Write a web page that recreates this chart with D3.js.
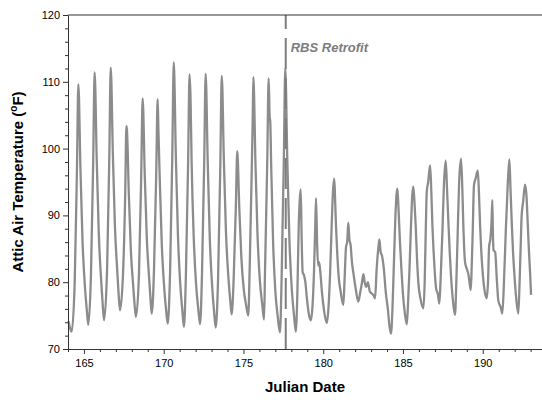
<!DOCTYPE html>
<html>
<head>
<meta charset="utf-8">
<script src="https://cdn.jsdelivr.net/npm/d3@7/dist/d3.min.js"></script>
<style>
  html, body { margin: 0; padding: 0; background: #fff; }
  svg { display: block; font-family: "Liberation Sans", Arial, Helvetica, sans-serif; }
</style>
</head>
<body>
<svg id="chart" width="542" height="403"></svg>
<script>
// ---------- data ----------
const xTickLabels = [165, 170, 175, 180, 185, 190];
const yTickLabels = [70, 80, 90, 100, 110, 120];
const retrofitDay = 177.65;
const retrofitLabel = "RBS Retrofit";

// [Julian date, attic air temperature °F] before the retrofit
const preRetrofit = [
  [164.03,74.2],[164.12,73.2],[164.23,72.6],
  [164.42,80.0],[164.56,96.7],[164.65,109.6],[164.78,97.0],[164.91,86.2],[165.06,79.4],[165.18,75.8],[165.27,73.6],
  [165.44,81.2],[165.58,98.2],[165.67,111.4],[165.80,98.4],[165.93,87.3],[166.08,80.2],[166.18,76.5],[166.26,74.3],
  [166.45,81.9],[166.59,98.9],[166.68,112.1],[166.81,99.4],[166.94,88.5],[167.09,81.6],[167.18,78.0],[167.26,75.8],
  [167.45,81.3],[167.59,93.7],[167.66,103.4],[167.70,102.6],[167.81,93.4],[167.94,84.8],[168.09,79.4],[168.18,76.5],[168.26,74.8],
  [168.45,81.3],[168.59,96.1],[168.68,107.5],[168.81,96.2],[168.94,86.6],[169.09,80.5],[169.18,77.2],[169.25,75.3],
  [169.39,81.7],[169.53,96.2],[169.62,107.4],[169.67,102.6],[169.75,95.6],[169.88,85.6],[170.03,79.2],[170.15,75.8],[170.25,73.8],
  [170.40,81.6],[170.54,99.2],[170.63,112.9],[170.76,99.0],[170.89,87.2],[171.04,79.6],[171.17,75.7],[171.27,73.3],
  [171.39,80.9],[171.53,97.9],[171.62,111.1],[171.68,107.8],[171.75,98.0],[171.88,86.8],[172.03,79.7],[172.17,75.9],[172.28,73.7],
  [172.40,81.2],[172.54,98.1],[172.63,111.2],[172.76,97.9],[172.89,86.5],[173.04,79.3],[173.16,75.5],[173.26,73.2],
  [173.41,80.7],[173.55,97.7],[173.64,110.9],[173.77,98.4],[173.90,87.7],[174.05,80.9],[174.17,77.3],[174.26,75.2],
  [174.38,80.1],[174.52,91.1],[174.61,99.6],[174.74,91.0],[174.87,83.6],[175.02,78.9],[175.17,76.5],[175.30,75.0],
  [175.39,82.1],[175.53,98.2],[175.58,104.4],[175.62,110.7],[175.75,98.0],[175.88,87.1],[176.03,80.2],[176.18,76.6],[176.29,74.4],
  [176.35,81.6],[176.49,97.9],[176.58,110.5],[176.64,104.9],[176.68,104.0],[176.74,97.2],[176.86,85.8],[177.00,78.6],[177.15,74.8],[177.29,72.5],
  [177.39,80.4],[177.53,98.2],[177.62,112.0],[177.75,98.2],[177.88,86.4],[178.03,78.9],[178.17,75.0]
];

// [Julian date, attic air temperature °F] after the retrofit
const postRetrofit = [
  [178.28,72.6],[178.38,78.5],[178.46,88.0],[178.52,92.0],[178.59,93.9],[178.65,86.3],[178.71,81.5],[178.80,81.0],[178.88,80.0],[178.98,77.5],[179.10,75.2],[179.22,74.3],
  [179.33,76.5],[179.42,81.5],[179.49,87.5],[179.55,92.6],[179.62,85.5],[179.68,82.5],[179.74,83.0],[179.82,81.5],[179.92,78.5],[180.05,75.8],[180.22,73.9],
  [180.33,76.2],[180.43,81.3],[180.53,88.5],[180.61,93.5],[180.68,95.5],[180.80,88.5],[180.89,83.8],[180.98,80.5],[181.08,78.8],[181.26,76.6],
  [181.34,80.5],[181.43,85.3],[181.50,86.0],[181.57,88.9],[181.64,86.5],[181.72,85.5],[181.80,83.0],[181.90,81.2],[182.05,78.8],[182.20,77.1],
  [182.32,78.5],[182.42,79.8],[182.52,81.2],[182.60,80.0],[182.70,79.3],[182.80,80.0],[182.92,78.6],[183.05,78.3],[183.18,77.9],[183.25,77.6],
  [183.35,82.0],[183.45,85.0],[183.52,86.4],[183.60,84.5],[183.68,84.0],[183.80,82.0],[183.92,78.5],[184.05,76.0],[184.15,73.5],[184.25,72.3],
  [184.34,76.0],[184.42,82.0],[184.52,89.5],[184.59,93.0],[184.65,94.0],[184.72,91.0],[184.81,86.0],[184.90,82.0],[184.99,78.5],[185.12,75.3],[185.24,73.7],
  [185.32,77.0],[185.40,81.5],[185.50,88.3],[185.58,93.0],[185.65,94.3],[185.72,92.0],[185.80,88.3],[185.88,83.5],[185.96,80.0],[186.10,77.5],[186.28,76.1],
  [186.36,80.0],[186.43,88.0],[186.49,93.5],[186.58,95.0],[186.70,97.5],[186.77,94.0],[186.84,88.8],[186.91,85.0],[186.98,82.0],[187.08,79.0],[187.18,78.3],[187.28,76.8],
  [187.36,80.5],[187.47,87.4],[187.57,94.8],[187.68,98.2],[187.76,94.0],[187.85,88.8],[187.93,84.5],[188.01,81.0],[188.13,77.3],[188.26,75.1],
  [188.35,80.5],[188.43,87.4],[188.52,95.0],[188.64,98.5],[188.72,94.0],[188.78,88.8],[188.89,83.0],[189.00,82.0],[189.10,81.2],[189.25,78.8],
  [189.31,82.5],[189.37,87.4],[189.45,94.5],[189.55,95.5],[189.69,96.7],[189.76,93.5],[189.83,88.8],[189.90,85.0],[189.97,82.3],[190.10,79.0],[190.25,77.6],
  [190.33,80.0],[190.40,85.4],[190.48,86.5],[190.55,89.0],[190.60,92.3],[190.64,87.0],[190.68,84.8],[190.78,84.5],[190.88,80.5],[190.98,77.2],[191.12,76.3],[191.23,75.3],
  [191.33,80.0],[191.44,87.4],[191.57,94.8],[191.67,98.4],[191.74,94.0],[191.82,88.8],[191.90,84.5],[191.98,81.3],[192.10,77.5],[192.23,75.3],
  [192.31,80.0],[192.38,85.5],[192.44,90.0],[192.53,92.0],[192.65,94.6],[192.74,93.0],[192.82,88.8],[192.90,84.5],[192.97,81.3],[193.03,78.1]
];

// ---------- layout ----------
const W = 542, H = 403;
const plot = { left: 68, top: 15, bottom: 349, right: 562.5 };
const svg = d3.select("#chart");

const x = d3.scaleLinear().domain([164, 195]).range([plot.left, plot.right]);
const y = d3.scaleLinear().domain([70, 120]).range([plot.bottom, plot.top]);

const axisColor = "#333";
const lineGray = "#8c8c8c";

// data line
const series = preRetrofit.concat(postRetrofit);
const line = d3.line().x(d => x(d[0])).y(d => y(d[1])).curve(d3.curveMonotoneX);

svg.append("path")
  .datum(series)
  .attr("d", line)
  .attr("fill", "none")
  .attr("stroke", lineGray)
  .attr("stroke-width", 2.3)
  .attr("stroke-linejoin", "round");

// retrofit dashed line (drawn bottom to top)
svg.append("line")
  .attr("x1", x(retrofitDay)).attr("x2", x(retrofitDay))
  .attr("y1", y(70)).attr("y2", y(120))
  .attr("stroke", "#7d7d7d")
  .attr("stroke-width", 2)
  .attr("stroke-dasharray", "31,9");

svg.append("text")
  .attr("x", x(retrofitDay) + 5)
  .attr("y", 51.5)
  .attr("font-size", 13)
  .attr("font-weight", "bold")
  .attr("font-style", "italic")
  .attr("fill", "#7d7d7d")
  .text(retrofitLabel);

// axes
const yMinor = d3.range(70, 121, 2).filter(v => v % 10 !== 0);
const xMinor = d3.range(164, 195, 1).filter(v => v % 5 !== 0);

function styleAxis(g) {
  g.selectAll("path.domain").attr("stroke", axisColor).attr("stroke-width", 1);
  g.selectAll(".tick line").attr("stroke", axisColor).attr("stroke-width", 1);
  g.selectAll(".tick text").attr("fill", "#000").attr("font-size", 11)
    .attr("font-family", '"Liberation Sans", Arial, sans-serif');
}

const yAxisG = svg.append("g").attr("transform", `translate(${plot.left},0)`)
  .call(d3.axisLeft(y).tickValues(yTickLabels).tickSize(5).tickSizeOuter(0).tickPadding(3).tickFormat(d3.format("d")));
styleAxis(yAxisG);
const yMinorG = svg.append("g").attr("transform", `translate(${plot.left},0)`)
  .call(d3.axisLeft(y).tickValues(yMinor).tickSize(3).tickSizeOuter(0).tickFormat(""));
styleAxis(yMinorG);
yMinorG.select("path.domain").remove();

const xAxisG = svg.append("g").attr("transform", `translate(0,${plot.bottom})`)
  .call(d3.axisBottom(x).tickValues(xTickLabels).tickSize(5).tickSizeOuter(0).tickPadding(5).tickFormat(d3.format("d")));
styleAxis(xAxisG);
const xMinorG = svg.append("g").attr("transform", `translate(0,${plot.bottom})`)
  .call(d3.axisBottom(x).tickValues(xMinor).tickSize(3).tickSizeOuter(0).tickFormat(""));
styleAxis(xMinorG);
xMinorG.select("path.domain").remove();

// top frame line
svg.append("line")
  .attr("x1", plot.left).attr("x2", plot.right)
  .attr("y1", plot.top).attr("y2", plot.top)
  .attr("stroke", axisColor).attr("stroke-width", 1);

// axis titles
svg.append("text")
  .attr("x", (plot.left + W) / 2)
  .attr("y", 392)
  .attr("text-anchor", "middle")
  .attr("font-size", 15)
  .attr("font-weight", "bold")
  .attr("fill", "#000")
  .text("Julian Date");

const yt = svg.append("text")
  .attr("transform", `translate(23,${(plot.top + plot.bottom) / 2}) rotate(-90)`)
  .attr("text-anchor", "middle")
  .attr("font-size", 15)
  .attr("font-weight", "bold")
  .attr("fill", "#000");
yt.append("tspan").text("Attic Air Temperature (");
yt.append("tspan").attr("font-size", 10).attr("dy", -6).text("o");
yt.append("tspan").attr("dy", 6).text("F)");
</script>
</body>
</html>
